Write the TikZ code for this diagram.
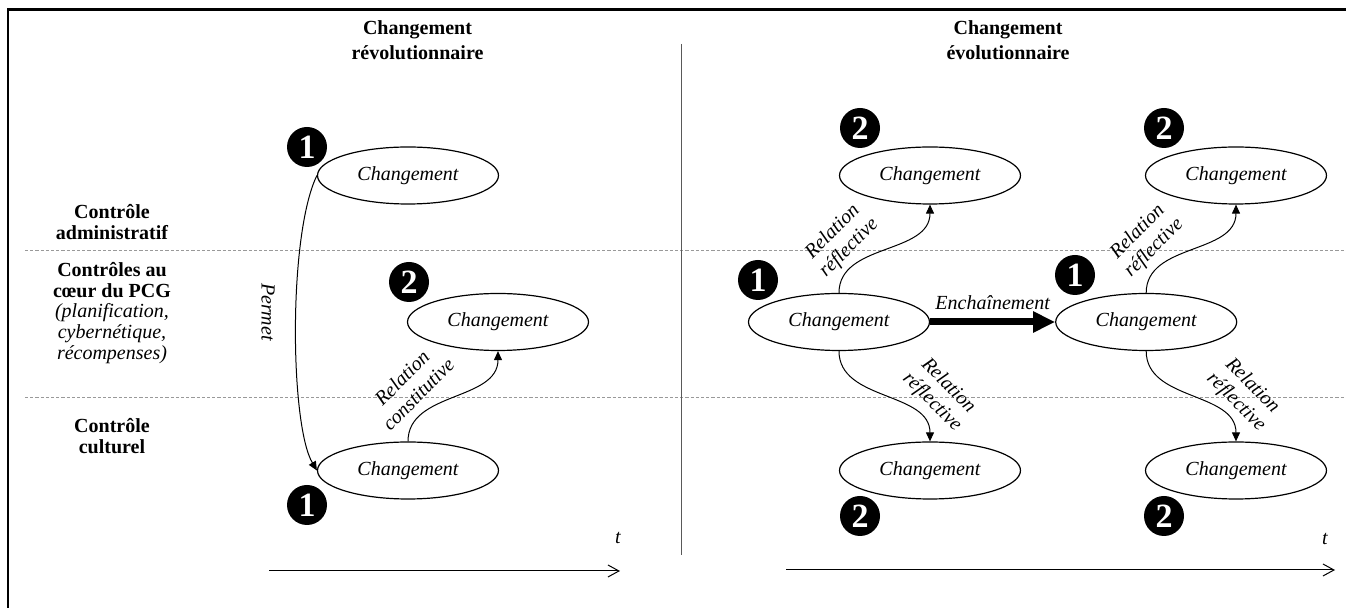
\documentclass[tikz,border=0pt]{standalone}
\usepackage{fontspec}
\setmainfont{Liberation Serif}
\usetikzlibrary{arrows.meta, positioning, shapes.geometric}

\begin{document}
\begin{tikzpicture}[
        x=0.5pt, y=-0.5pt,
        node distance=62.5pt,
        font=\fontsize{10}{12}\selectfont,
        changement/.style={ellipse, draw, line width=0.6pt, minimum width=90.5pt, minimum height=28.5pt, inner sep=0pt, font=\fontsize{10}{12}\selectfont\itshape},
        badge/.style={circle, fill=black, text=white, minimum size=20pt, inner sep=0pt, font=\fontsize{17}{17}\selectfont\bfseries},
        title/.style={align=center, font=\fontsize{10}{12.5}\selectfont\bfseries},
        rowlabel/.style={align=center, font=\fontsize{10}{10.3}\selectfont\bfseries},
        rellabel/.style={align=center, font=\fontsize{10}{11.5}\selectfont\itshape},
        line/.style={draw, line width=0.5pt, -{Triangle[length=4.5pt,width=4pt]}},
        axis/.style={draw, line width=0.5pt, -{Straight Barb[length=5.5pt,width=6pt]}},
        sep/.style={draw=gray!80, line width=0.5pt, dash pattern=on 1.6pt off 1pt}
        ]
        \useasboundingbox (0,0) rectangle (1346,608);

        % cadre
        \draw[line width=1.2pt] (8,608) -- (8,9.5) -- (1346,9.5);
        \draw[sep] (25,251) -- (1346,251);
        \draw[sep] (25,398) -- (1346,398);
        \draw[line width=0.5pt, gray!70!black] (681,44) -- (681,555);

        % titres
        \node[title] (revo) at (417.5,40) {Changement\\révolutionnaire};
        \node[title] (evo) at (1008,40) {Changement\\évolutionnaire};

        \node[rowlabel] (admin) at (112,222) {Contrôle\\administratif};
        \node[rowlabel] (pcg) at (112,313) {Contrôles au\\cœur du PCG\\\textnormal{\itshape (planification,}\\\textnormal{\itshape cybernétique,}\\\textnormal{\itshape récompenses)}};
        \node[rowlabel] (cult) at (112,436) {Contrôle\\culturel};

        % changement révolutionnaire
        \node[changement] (r1) at (408,175.5) {Changement};
        \node[changement] (r2) at (498,322) {Changement};
        \node[changement] (r3) at (408,470.5) {Changement};
        \node[badge] (br1) at (307,147) {1};
        \node[badge] (br2) at (409,282) {2};
        \node[badge] (br3) at (307,505) {1};

        \path[line] (r1.west) .. controls (288,235) and (290,425) .. (r3.west);
        \node[rellabel, rotate=-90] (permet) at (268,312) {Permet};
        \path[line] (r3.north) .. controls +(0,-50) and +(0,50) .. (r2.south);
        \node[rellabel, rotate=45] (constit) at (410,386) {Relation\\constitutive};

        % changement évolutionnaire
        \node[changement] (ea) at (839,322) {Changement};
        \node[changement, right=of ea] (eb) {Changement};
        \node[changement] (ea1) at (930,175.5) {Changement};
        \node[changement] (ea2) at (930,470.5) {Changement};
        \node[changement] (eb1) at (1236,175.5) {Changement};
        \node[changement] (eb2) at (1236,470.5) {Changement};
        \node[badge] (bea) at (758,280) {1};
        \node[badge] (beb) at (1075,275) {1};
        \node[badge] (bea1) at (860,128) {2};
        \node[badge] (beb1) at (1164,128) {2};
        \node[badge] (bea2) at (860,516) {2};
        \node[badge] (beb2) at (1164,516) {2};

        \path[draw, line width=3.5pt, -{Triangle[length=11pt,width=10pt]}] (ea.east) -- node[midway, above=1pt, font=\fontsize{10}{12}\selectfont\itshape] (ench) {Enchaînement} (eb.west);
        \path[line] (ea.north) .. controls +(0,-50) and +(0,50) .. (ea1.south);
        \path[line] (ea.south) .. controls +(0,50) and +(0,-50) .. (ea2.north);
        \path[line] (eb.north) .. controls +(0,-50) and +(0,50) .. (eb1.south);
        \path[line] (eb.south) .. controls +(0,50) and +(0,-50) .. (eb2.north);
        \node[rellabel, rotate=45] (refa1) at (841,240) {Relation\\réflective};
        \node[rellabel, rotate=-45] (refa2) at (940,394) {Relation\\réflective};
        \node[rellabel, rotate=45] (refb1) at (1146,240) {Relation\\réflective};
        \node[rellabel, rotate=-45] (refb2) at (1244,394) {Relation\\réflective};

        % axes du temps
        \coordinate (tl0) at (269,571);
        \coordinate (tl1) at (620,571);
        \coordinate (tr0) at (786,570);
        \coordinate (tr1) at (1335,570);
        \path[axis] (tl0) -- (tl1);
        \path[axis] (tr0) -- (tr1);
        \node[font=\fontsize{10}{12}\selectfont\itshape] (tl) at (618,538) {t};
        \node[font=\fontsize{10}{12}\selectfont\itshape] (tr) at (1325,539) {t};
      \end{tikzpicture}
\end{document}
